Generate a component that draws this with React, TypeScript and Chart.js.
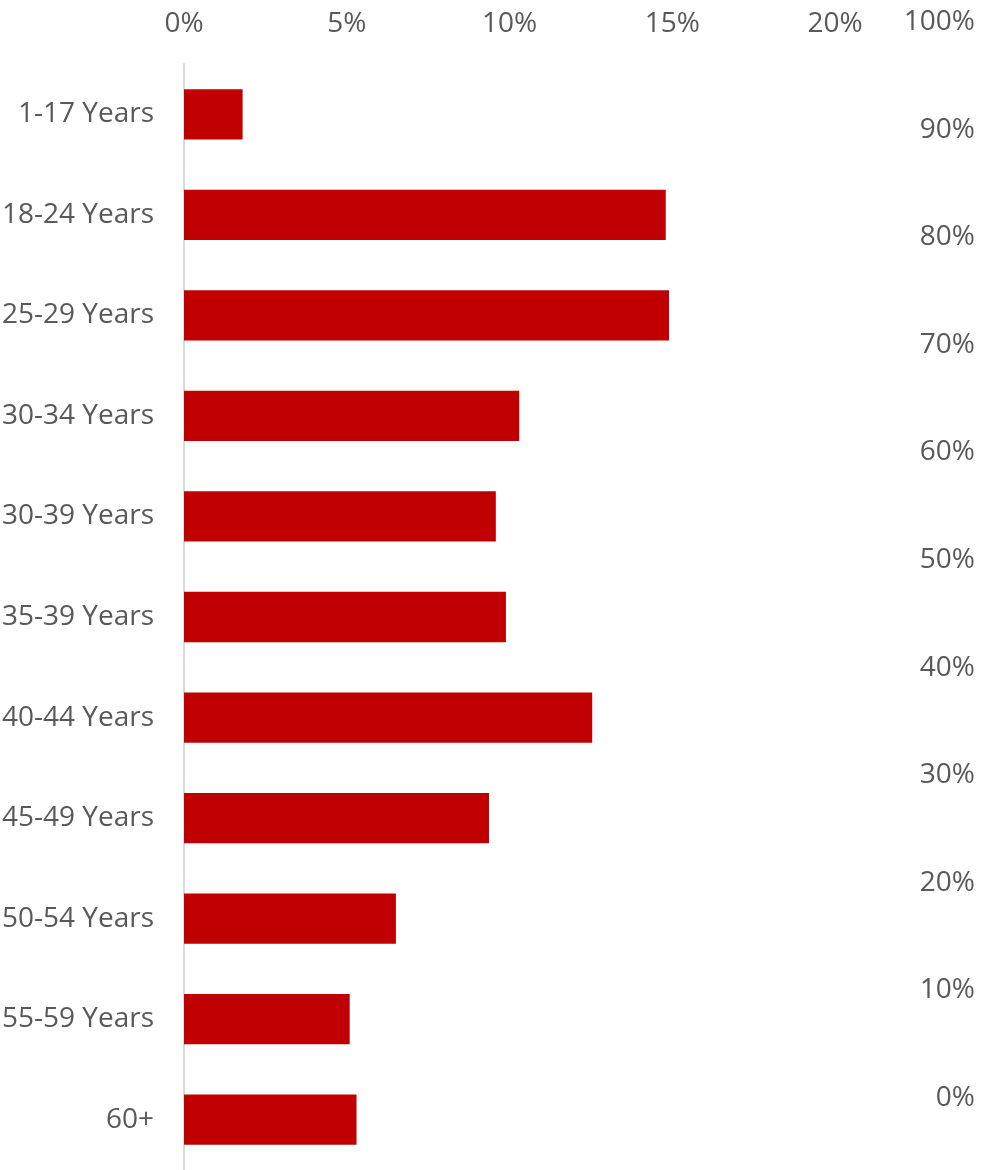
import React, { useEffect, useRef } from "react";
import { Chart, registerables } from "chart.js";

Chart.register(...registerables);

const categories = [
  "1-17 Years",
  "18-24 Years",
  "25-29 Years",
  "30-34 Years",
  "30-39 Years",
  "35-39 Years",
  "40-44 Years",
  "45-49 Years",
  "50-54 Years",
  "55-59 Years",
  "60+",
];
const shareValues = [1.8, 14.8, 14.9, 10.3, 9.58, 9.89, 12.54, 9.37, 6.51, 5.09, 5.3];
const topTicks = [0, 5, 10, 15, 20];
const rightTicks = [0, 10, 20, 30, 40, 50, 60, 70, 80, 90, 100];

const FONT = "'Open Sans', sans-serif";
const TEXT = "#595959";
const RIGHT_MIN = -6.69;
const RIGHT_MAX = 96.1;

export default function App() {
  const ref = useRef<HTMLCanvasElement | null>(null);
  useEffect(() => {
    if (!ref.current) return;
    const chart = new Chart(ref.current, {
      type: "bar",
      data: {
        labels: categories,
        datasets: [
          {
            data: shareValues,
            backgroundColor: "#C00000",
            borderWidth: 0,
            categoryPercentage: 0.5,
            barPercentage: 1,
            xAxisID: "x",
            yAxisID: "y",
          },
        ],
      },
      options: {
        indexAxis: "y",
        animation: false,
        responsive: false,
        maintainAspectRatio: false,
        layout: { padding: { left: 0, right: 6, top: 0, bottom: 0 } },
        plugins: { legend: { display: false }, tooltip: { enabled: false } },
        scales: {
          x: {
            position: "top",
            min: 0,
            max: 20,
            afterBuildTicks: (s: any) => {
              s.ticks = topTicks.map((v) => ({ value: v }));
            },
            afterFit: (s: any) => {
              s.height = 64;
            },
            grid: { display: false, drawTicks: false },
            border: { display: false },
            ticks: {
              color: TEXT,
              font: { family: FONT, size: 28 },
              padding: 23,
              maxRotation: 0,
              autoSkip: false,
              callback: (v: any) => `${v}%`,
            },
          },
          y: {
            position: "left",
            afterFit: (s: any) => {
              s.width = 184;
              s.paddingTop = 0;
              s.paddingBottom = 0;
            },
            grid: { display: false, drawTicks: false },
            border: { display: true, color: "#D9D9D9", width: 2 },
            ticks: {
              color: TEXT,
              font: { family: FONT, size: 28 },
              padding: 30,
              autoSkip: false,
            },
          },
          y2: {
            type: "linear",
            position: "right",
            offset: false,
            bounds: "data",
            min: RIGHT_MIN,
            max: RIGHT_MAX,
            afterBuildTicks: (s: any) => {
              s.ticks = rightTicks.map((v) => ({ value: v }));
              s.min = RIGHT_MIN;
              s.max = RIGHT_MAX;
            },
            afterFit: (s: any) => {
              s.width = 140;
              s.paddingTop = 0;
              s.paddingBottom = 0;
            },
            grid: { display: false, drawTicks: false, offset: false },
            border: { display: false },
            ticks: {
              color: TEXT,
              font: { family: FONT, size: 28 },
              crossAlign: "far",
              autoSkip: false,
              callback: (v: any) => `${v}%`,
            },
          },
        },
      },
    });
    return () => chart.destroy();
  }, []);
  return (
    <div style={{ position: "absolute", left: 0, top: 0, width: 981, height: 1170, background: "#fff" }}>
      <canvas ref={ref} width={981} height={1170} style={{ width: 981, height: 1170 }} />
    </div>
  );
}
